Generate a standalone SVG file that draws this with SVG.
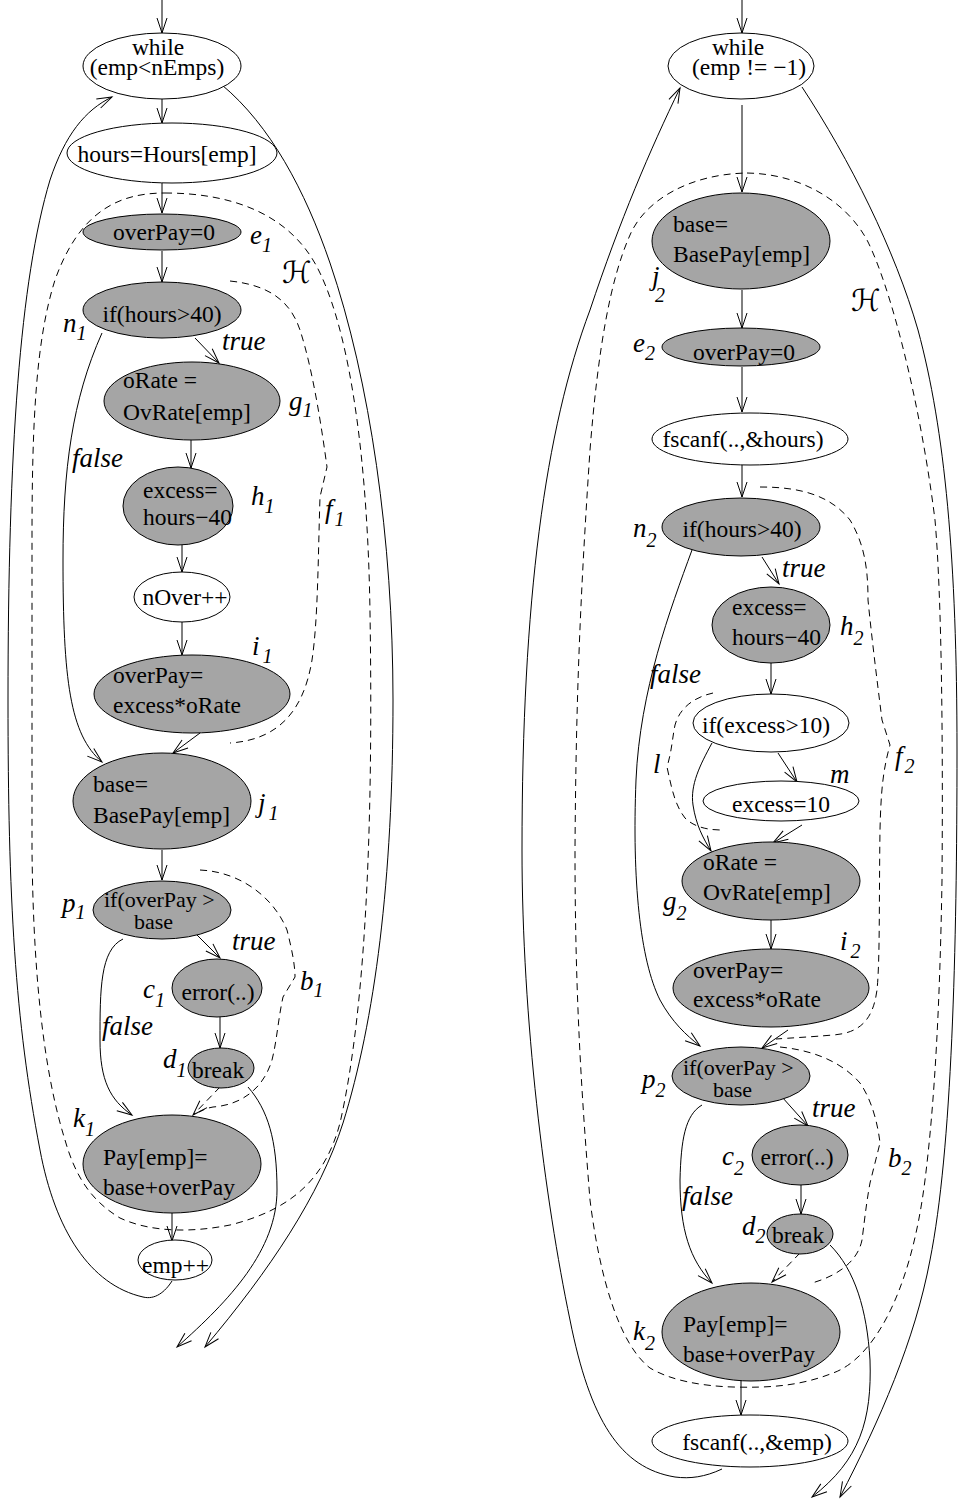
<svg xmlns="http://www.w3.org/2000/svg" width="959" height="1501" viewBox="0 0 959 1501">
<style>
  .n ellipse { stroke: #000; stroke-width: 1; }
  .g { fill: #a5a5a5; }
  .w { fill: #fff; }
  .t { font-family: "Liberation Serif", "Times New Roman", serif; font-size: 23.5px; fill: #000; }
  .tc { font-size: 22px; }
  .m { text-anchor: middle; }
  .lb { font-family: "Liberation Serif", "Times New Roman", serif; font-style: italic; font-size: 27px; fill: #000; }
  .sub { font-size: 20px; }
  .cal { font-family: "DejaVu Serif", "DejaVu Sans", serif; font-style: italic; font-size: 30px; fill: #000; }
  .e { fill: none; stroke: #000; stroke-width: 1; }
  .a { marker-end: url(#ah); }
  .d { fill: none; stroke: #000; stroke-width: 1; stroke-dasharray: 7 5; }
</style>
<defs>
  <marker id="ah" viewBox="0 0 16 10" refX="15" refY="5" markerWidth="16" markerHeight="10" markerUnits="userSpaceOnUse" orient="auto" overflow="visible">
    <path d="M0,0 L15,5 L0,10" fill="none" stroke="#000" stroke-width="1"/>
  </marker>
</defs>
<rect width="959" height="1501" fill="#fff"/>

<!-- hammock / region outlines -->
<g id="regions">
  <path class="d" d="M165,193 C230,193 292,213 320,273 C352,340 368,470 370,613 C373,800 368,1000 340,1123 C325,1180 290,1210 230,1225 C190,1233 150,1232 120,1218 C90,1200 75,1175 65,1140 C40,1060 33,950 32,850 L32,540 C32,420 36,340 55,280 C80,210 120,193 165,193 Z"/>
  <path class="d" d="M230,281 C268,285 290,300 300,330 C313,370 322,430 327,467 L320,497 C318,560 318,620 312,660 C303,715 275,740 230,743"/>
  <path class="d" d="M200,870 C243,872 275,900 287,930 C292,950 295,965 295,977 L283,997 C278,1020 277,1040 272,1060 C263,1090 240,1105 213,1107 C207,1108 203,1110 199,1112"/>

  <path class="d" d="M747,173 C800,174 845,200 867,240 C890,285 920,400 935,520 C942,600 943,750 942,880 C940,1000 935,1100 925,1180 C910,1300 870,1360 833,1373 C800,1386 770,1388 733,1387 C700,1386 670,1380 650,1368 C620,1345 600,1280 590,1200 C582,1100 575,1000 575,850 C576,700 580,600 590,450 C598,350 610,280 630,235 C645,200 690,174 747,173 Z"/>
  <path class="d" d="M760,487 C800,487 830,495 850,520 C865,545 868,570 868,600 C872,640 877,680 882,720 L890,745 C883,770 881,790 880,830 C879,900 880,960 877,990 C873,1020 860,1033 833,1035 C810,1037 790,1038 776,1039"/>
  <path class="d" d="M780,1047 C810,1050 840,1060 860,1083 C872,1100 878,1125 880,1143 L870,1183 C866,1205 864,1225 862,1240 C858,1260 840,1275 812,1283"/>
  <path class="d" d="M713,693 C695,697 680,707 675,725 C672,740 672,750 667,767 C672,790 675,805 685,818 C695,828 710,830 722,830"/>
</g>

<!-- control-flow edges -->
<g id="connectors">
  <path class="e a" d="M162,0 L162,33"/>
  <path class="e a" d="M162,99 L162,123"/>
  <path class="e a" d="M162,183 L162,213"/>
  <path class="e a" d="M162,251 L162,282"/>
  <path class="e a" d="M195,338 L219,363"/>
  <path class="e a" d="M191,440 L191,468"/>
  <path class="e a" d="M182,545 L182,572"/>
  <path class="e a" d="M182,622 L182,655"/>
  <path class="e a" d="M200,733 L173,753"/>
  <path class="e a" d="M102,333 C72,400 63,470 63,560 C63,680 70,735 102,762"/>
  <path class="e a" d="M162,850 L162,880"/>
  <path class="e a" d="M192,930 L220,958"/>
  <path class="e a" d="M220,1017 L220,1048"/>
  <path class="e a" d="M123,939 C100,950 100,990 100,1040 C100,1080 110,1100 132,1115"/>
  <path class="d a" d="M220,1087 L193,1115"/>
  <path class="e a" d="M172,1213 L172,1241"/>
  <path class="e a" d="M172,1281 C165,1292 155,1300 143,1297 C90,1285 55,1230 40,1150 C15,1020 8,900 8,700 C8,450 20,280 50,180 C65,135 85,110 112,97"/>
  <path class="e a" d="M222,85 C270,125 305,190 330,263 C370,380 393,540 393,700 C393,880 375,1020 343,1123 C320,1195 270,1270 205,1347"/>
  <path class="e a" d="M248,1087 C268,1110 277,1140 277,1190 C277,1250 230,1300 177,1347"/>

  <path class="e a" d="M742,0 L742,33"/>
  <path class="e a" d="M742,105 L742,192"/>
  <path class="e a" d="M742,290 L742,328"/>
  <path class="e a" d="M742,367 L742,412"/>
  <path class="e a" d="M742,465 L742,497"/>
  <path class="e a" d="M762,557 L779,584"/>
  <path class="e a" d="M771,663 L771,694"/>
  <path class="e a" d="M778,753 L797,782"/>
  <path class="e a" d="M712,743 C700,765 690,785 693,805 C696,825 703,838 711,851"/>
  <path class="e a" d="M802,825 L773,843"/>
  <path class="e a" d="M771,920 L771,949"/>
  <path class="e a" d="M788,1030 L762,1048"/>
  <path class="e a" d="M692,550 C670,610 640,690 636,780 C632,880 640,960 660,1000 C672,1022 686,1035 700,1046"/>
  <path class="e a" d="M782,1097 L808,1126"/>
  <path class="e a" d="M801,1185 L801,1214"/>
  <path class="e a" d="M702,1105 C685,1115 681,1140 680,1180 C680,1230 690,1260 712,1283"/>
  <path class="d a" d="M800,1253 L772,1282"/>
  <path class="e a" d="M741,1380 L741,1415"/>
  <path class="e a" d="M722,1469 C705,1477 690,1479 675,1477 C620,1468 590,1420 570,1320 C545,1200 522,1020 522,850 C522,600 545,430 590,310 C620,220 650,150 680,88"/>
  <path class="e a" d="M802,87 C850,160 895,250 918,330 C945,430 957,560 957,750 C957,950 952,1150 930,1260 C915,1340 880,1420 840,1497"/>
  <path class="e a" d="M830,1245 C855,1270 867,1310 870,1360 C872,1420 860,1460 812,1497"/>
</g>

<!-- left program -->
<g id="while1" class="n"><ellipse class="w" cx="162" cy="66" rx="79" ry="33"/><text class="t m" x="158" y="55">while</text><text class="t m" x="157" y="75">(emp&lt;nEmps)</text></g>
<g id="hours1" class="n"><ellipse class="w" cx="172" cy="153" rx="105" ry="30"/><text class="t m" x="167" y="162">hours=Hours[emp]</text></g>
<g id="e1" class="n"><ellipse class="g" cx="162" cy="232" rx="79" ry="18"/><text class="t m" x="164" y="240">overPay=0</text></g>
<g id="n1" class="n"><ellipse class="g" cx="162" cy="310" rx="79" ry="28"/><text class="t m" x="162" y="322">if(hours&gt;40)</text></g>
<g id="g1" class="n"><ellipse class="g" cx="192" cy="401" rx="88" ry="39"/><text class="t" x="123" y="388">oRate =</text><text class="t" x="123" y="420">OvRate[emp]</text></g>
<g id="h1" class="n"><ellipse class="g" cx="178" cy="506" rx="55" ry="39"/><text class="t" x="143" y="498">excess=</text><text class="t" x="143" y="525">hours−40</text></g>
<g id="nover1" class="n"><ellipse class="w" cx="182" cy="597" rx="48" ry="25"/><text class="t m" x="185" y="605">nOver++</text></g>
<g id="i1" class="n"><ellipse class="g" cx="192" cy="694" rx="98" ry="39"/><text class="t" x="113" y="683">overPay=</text><text class="t" x="113" y="713">excess*oRate</text></g>
<g id="j1" class="n"><ellipse class="g" cx="162" cy="801" rx="89" ry="48"/><text class="t" x="93" y="792">base=</text><text class="t" x="93" y="823">BasePay[emp]</text></g>
<g id="p1" class="n"><ellipse class="g" cx="162" cy="910" rx="69" ry="29"/><text class="t tc" x="104" y="907">if(overPay &gt;</text><text class="t tc" x="134" y="929">base</text></g>
<g id="c1" class="n"><ellipse class="g" cx="217" cy="988" rx="45" ry="29"/><text class="t m" x="218" y="1000">error(..)</text></g>
<g id="d1" class="n"><ellipse class="g" cx="221" cy="1068" rx="33" ry="20"/><text class="t" x="192" y="1078">break</text></g>
<g id="k1" class="n"><ellipse class="g" cx="172" cy="1164" rx="89" ry="49"/><text class="t" x="103" y="1165">Pay[emp]=</text><text class="t" x="103" y="1195">base+overPay</text></g>
<g id="emp1" class="n"><ellipse class="w" cx="175" cy="1260" rx="37" ry="20"/><text class="t" x="142" y="1273">emp++</text></g>

<!-- right program -->
<g id="while2" class="n"><ellipse class="w" cx="741" cy="66" rx="73" ry="33"/><text class="t m" x="738" y="55">while</text><text class="t m" x="749" y="75">(emp != −1)</text></g>
<g id="j2" class="n"><ellipse class="g" cx="741" cy="241" rx="89" ry="48"/><text class="t" x="673" y="232">base=</text><text class="t" x="673" y="262">BasePay[emp]</text></g>
<g id="e2" class="n"><ellipse class="g" cx="741" cy="347" rx="79" ry="19"/><text class="t m" x="744" y="360">overPay=0</text></g>
<g id="scan2" class="n"><ellipse class="w" cx="750" cy="439" rx="98" ry="26"/><text class="t m" x="743" y="447">fscanf(..,&amp;hours)</text></g>
<g id="n2" class="n"><ellipse class="g" cx="741" cy="527" rx="79" ry="29"/><text class="t m" x="742" y="537">if(hours&gt;40)</text></g>
<g id="h2" class="n"><ellipse class="g" cx="771" cy="625" rx="59" ry="38"/><text class="t" x="732" y="615">excess=</text><text class="t" x="732" y="645">hours−40</text></g>
<g id="l2" class="n"><ellipse class="w" cx="771" cy="723" rx="78" ry="29"/><text class="t m" x="766" y="733">if(excess&gt;10)</text></g>
<g id="m2" class="n"><ellipse class="w" cx="781" cy="801" rx="78" ry="20"/><text class="t m" x="781" y="812">excess=10</text></g>
<g id="g2" class="n"><ellipse class="g" cx="771" cy="881" rx="89" ry="39"/><text class="t" x="703" y="870">oRate =</text><text class="t" x="703" y="900">OvRate[emp]</text></g>
<g id="i2" class="n"><ellipse class="g" cx="771" cy="988" rx="98" ry="39"/><text class="t" x="693" y="978">overPay=</text><text class="t" x="693" y="1007">excess*oRate</text></g>
<g id="p2" class="n"><ellipse class="g" cx="741" cy="1076" rx="69" ry="29"/><text class="t tc" x="683" y="1075">if(overPay &gt;</text><text class="t tc" x="713" y="1097">base</text></g>
<g id="c2" class="n"><ellipse class="g" cx="800" cy="1155" rx="48" ry="30"/><text class="t m" x="797" y="1165">error(..)</text></g>
<g id="d2" class="n"><ellipse class="g" cx="800" cy="1234" rx="33" ry="20"/><text class="t" x="772" y="1243">break</text></g>
<g id="k2" class="n"><ellipse class="g" cx="751" cy="1332" rx="89" ry="49"/><text class="t" x="683" y="1332">Pay[emp]=</text><text class="t" x="683" y="1362">base+overPay</text></g>
<g id="scan3" class="n"><ellipse class="w" cx="750" cy="1441" rx="98" ry="26"/><text class="t m" x="757" y="1450">fscanf(..,&amp;emp)</text></g>

<!-- node names and branch labels -->
<g id="labels">
  <text class="lb" x="250" y="244">e<tspan class="sub" dy="8">1</tspan></text>
  <text class="cal" x="282" y="283">ℋ</text>
  <text class="lb" x="63" y="332">n<tspan class="sub" dy="8">1</tspan></text>
  <text class="lb" x="222" y="350">true</text>
  <text class="lb" x="289" y="410">g<tspan class="sub" dy="7">1</tspan></text>
  <text class="lb" x="72" y="467">false</text>
  <text class="lb" x="251" y="505">h<tspan class="sub" dy="8">1</tspan></text>
  <text class="lb" x="325" y="518">f<tspan class="sub" dx="2" dy="8">1</tspan></text>
  <text class="lb" x="252" y="655">i<tspan class="sub" dx="3" dy="8">1</tspan></text>
  <text class="lb" x="258" y="812">j<tspan class="sub" dx="3" dy="8">1</tspan></text>
  <text class="lb" x="62" y="912">p<tspan class="sub" dy="7">1</tspan></text>
  <text class="lb" x="232" y="950">true</text>
  <text class="lb" x="143" y="998">c<tspan class="sub" dy="9">1</tspan></text>
  <text class="lb" x="300" y="990">b<tspan class="sub" dy="7">1</tspan></text>
  <text class="lb" x="102" y="1035">false</text>
  <text class="lb" x="163" y="1068">d<tspan class="sub" dy="9">1</tspan></text>
  <text class="lb" x="73" y="1127">k<tspan class="sub" dy="9">1</tspan></text>

  <text class="lb" x="652" y="285">j</text>
  <text class="lb sub" x="655" y="302">2</text>
  <text class="cal" x="851" y="311">ℋ</text>
  <text class="lb" x="633" y="352">e<tspan class="sub" dy="8">2</tspan></text>
  <text class="lb" x="633" y="537">n<tspan class="sub" dy="10">2</tspan></text>
  <text class="lb" x="782" y="577">true</text>
  <text class="lb" x="840" y="635">h<tspan class="sub" dy="10">2</tspan></text>
  <text class="lb" x="650" y="683">false</text>
  <text class="lb" x="653" y="773">l</text>
  <text class="lb" x="830" y="783">m</text>
  <text class="lb" x="895" y="765">f<tspan class="sub" dx="2" dy="8">2</tspan></text>
  <text class="lb" x="663" y="910">g<tspan class="sub" dy="10">2</tspan></text>
  <text class="lb" x="840" y="950">i<tspan class="sub" dx="3" dy="8">2</tspan></text>
  <text class="lb" x="642" y="1088">p<tspan class="sub" dy="9">2</tspan></text>
  <text class="lb" x="812" y="1117">true</text>
  <text class="lb" x="722" y="1165">c<tspan class="sub" dy="10">2</tspan></text>
  <text class="lb" x="888" y="1167">b<tspan class="sub" dy="8">2</tspan></text>
  <text class="lb" x="682" y="1205">false</text>
  <text class="lb" x="742" y="1235">d<tspan class="sub" dy="8">2</tspan></text>
  <text class="lb" x="633" y="1340">k<tspan class="sub" dy="10">2</tspan></text>
</g>
</svg>
